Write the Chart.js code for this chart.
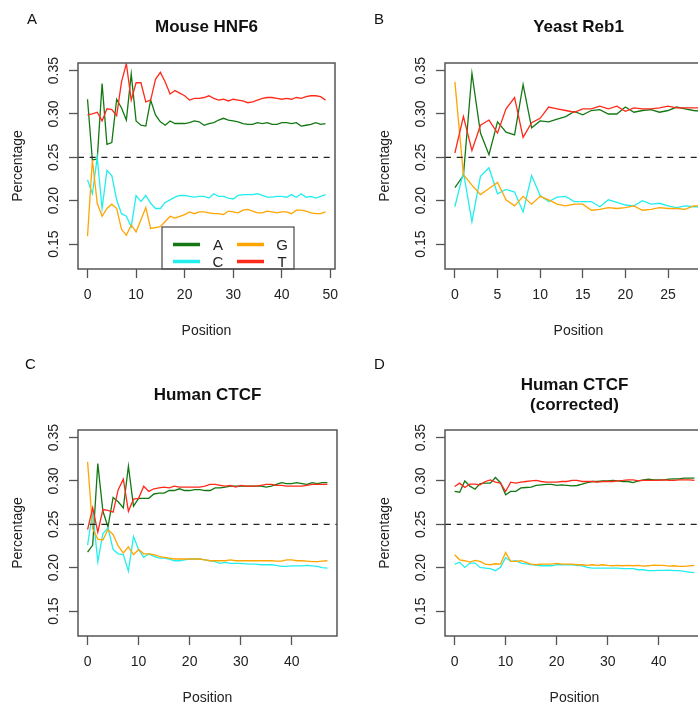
<!DOCTYPE html>
<html>
<head>
<meta charset="utf-8">
<script src="https://cdn.jsdelivr.net/npm/chart.js@4/dist/chart.umd.min.js"></script>
<style>
  html, body { margin: 0; padding: 0; background: #fff; overflow: hidden; }
  #page { position: relative; width: 698px; height: 711px; overflow: hidden; }
  #page canvas { position: absolute; }
  .tag { position: absolute; font: 15px "Liberation Sans", sans-serif; line-height: 1; color: #111; }
</style>
</head>
<body>
<div id="page">
  <canvas id="chartA" width="349" height="350" style="left:0;top:0"></canvas>
  <canvas id="chartB" width="400" height="350" style="left:349px;top:0"></canvas>
  <canvas id="chartC" width="349" height="361" style="left:0;top:350px"></canvas>
  <canvas id="chartD" width="400" height="361" style="left:349px;top:350px"></canvas>
  <div class="tag" style="left:27px;top:11px">A</div>
  <div class="tag" style="left:374px;top:11px">B</div>
  <div class="tag" style="left:25px;top:356px">C</div>
  <div class="tag" style="left:374px;top:356px">D</div>
</div>
<script>
// nucleotide frequency per position, one array per base
const hnf6A = [0.317, 0.247, 0.248, 0.335, 0.265, 0.267, 0.317, 0.307, 0.293, 0.346,
  0.292, 0.287, 0.286, 0.316, 0.299, 0.291, 0.287, 0.292, 0.289, 0.289,
  0.289, 0.290, 0.292, 0.291, 0.287, 0.289, 0.290, 0.293, 0.295, 0.293,
  0.292, 0.291, 0.289, 0.288, 0.288, 0.290, 0.289, 0.290, 0.288, 0.288,
  0.290, 0.290, 0.289, 0.290, 0.286, 0.287, 0.288, 0.290, 0.288, 0.289];
const hnf6C = [0.224, 0.208, 0.250, 0.191, 0.235, 0.229, 0.201, 0.185, 0.182, 0.170,
  0.206, 0.199, 0.206, 0.197, 0.191, 0.191, 0.198, 0.201, 0.204, 0.206,
  0.206, 0.205, 0.204, 0.205, 0.205, 0.203, 0.208, 0.205, 0.205, 0.203,
  0.202, 0.206, 0.207, 0.207, 0.207, 0.208, 0.206, 0.204, 0.204, 0.205,
  0.205, 0.204, 0.207, 0.204, 0.208, 0.204, 0.205, 0.203, 0.205, 0.207];
const hnf6G = [0.159, 0.247, 0.197, 0.182, 0.191, 0.196, 0.191, 0.167, 0.160, 0.172,
  0.164, 0.178, 0.192, 0.168, 0.169, 0.170, 0.176, 0.182, 0.180, 0.182,
  0.184, 0.187, 0.185, 0.187, 0.187, 0.186, 0.185, 0.185, 0.184, 0.188,
  0.187, 0.186, 0.189, 0.190, 0.188, 0.186, 0.186, 0.188, 0.187, 0.186,
  0.187, 0.187, 0.185, 0.189, 0.189, 0.188, 0.186, 0.185, 0.185, 0.187];
const hnf6T = [0.299, 0.300, 0.302, 0.292, 0.306, 0.305, 0.298, 0.337, 0.358, 0.316,
  0.336, 0.336, 0.314, 0.316, 0.340, 0.348, 0.337, 0.323, 0.327, 0.324,
  0.321, 0.316, 0.318, 0.318, 0.319, 0.321, 0.318, 0.316, 0.317, 0.315,
  0.317, 0.316, 0.315, 0.313, 0.314, 0.316, 0.318, 0.319, 0.319, 0.318,
  0.317, 0.318, 0.317, 0.319, 0.318, 0.320, 0.321, 0.321, 0.320, 0.316];

const reb1A = [0.215, 0.229, 0.347, 0.278, 0.253, 0.291, 0.279, 0.276, 0.334, 0.284,
  0.292, 0.291, 0.294, 0.297, 0.303, 0.299, 0.304, 0.305, 0.300, 0.300,
  0.308, 0.302, 0.304, 0.305, 0.302, 0.304, 0.308, 0.306, 0.304, 0.303];
const reb1C = [0.193, 0.233, 0.176, 0.228, 0.238, 0.208, 0.213, 0.210, 0.187, 0.229,
  0.206, 0.199, 0.204, 0.205, 0.199, 0.199, 0.199, 0.193, 0.201, 0.198,
  0.195, 0.194, 0.200, 0.196, 0.197, 0.194, 0.192, 0.194, 0.193, 0.193];
const reb1G = [0.337, 0.230, 0.218, 0.207, 0.214, 0.221, 0.201, 0.194, 0.205, 0.196,
  0.205, 0.201, 0.196, 0.194, 0.196, 0.196, 0.189, 0.190, 0.192, 0.191,
  0.192, 0.194, 0.189, 0.190, 0.192, 0.191, 0.191, 0.190, 0.194, 0.194];
const reb1T = [0.255, 0.297, 0.258, 0.287, 0.293, 0.278, 0.306, 0.319, 0.273, 0.290,
  0.295, 0.308, 0.306, 0.304, 0.302, 0.306, 0.306, 0.309, 0.306, 0.309,
  0.303, 0.307, 0.306, 0.306, 0.307, 0.309, 0.307, 0.307, 0.307, 0.307];

const ctcfA = [0.218, 0.226, 0.320, 0.265, 0.247, 0.281, 0.276, 0.269, 0.317, 0.271,
  0.280, 0.280, 0.280, 0.285, 0.286, 0.286, 0.289, 0.289, 0.291, 0.289,
  0.289, 0.290, 0.290, 0.289, 0.289, 0.292, 0.292, 0.293, 0.294, 0.294,
  0.294, 0.294, 0.294, 0.294, 0.294, 0.293, 0.294, 0.296, 0.298, 0.297,
  0.297, 0.298, 0.297, 0.296, 0.298, 0.297, 0.298, 0.298];
const ctcfC = [0.226, 0.265, 0.207, 0.239, 0.246, 0.221, 0.216, 0.215, 0.196, 0.236,
  0.221, 0.212, 0.216, 0.213, 0.211, 0.211, 0.210, 0.208, 0.208, 0.209,
  0.210, 0.210, 0.210, 0.209, 0.208, 0.207, 0.205, 0.206, 0.205, 0.205,
  0.205, 0.2045, 0.204, 0.204, 0.2034, 0.2034, 0.2034, 0.2026, 0.2015, 0.2015,
  0.202, 0.202, 0.202, 0.2026, 0.202, 0.2015, 0.200, 0.1995];
const ctcfG = [0.322, 0.245, 0.233, 0.232, 0.244, 0.238, 0.225, 0.217, 0.224, 0.215,
  0.221, 0.216, 0.216, 0.215, 0.213, 0.212, 0.211, 0.210, 0.210, 0.210,
  0.210, 0.210, 0.210, 0.209, 0.208, 0.208, 0.208, 0.208, 0.209, 0.208,
  0.208, 0.208, 0.208, 0.208, 0.208, 0.208, 0.208, 0.2075, 0.2075, 0.209,
  0.209, 0.208, 0.208, 0.2075, 0.207, 0.207, 0.2075, 0.208];
const ctcfT = [0.244, 0.269, 0.241, 0.267, 0.266, 0.264, 0.290, 0.302, 0.265, 0.279,
  0.280, 0.294, 0.288, 0.291, 0.292, 0.293, 0.292, 0.294, 0.293, 0.293,
  0.293, 0.293, 0.293, 0.294, 0.296, 0.296, 0.295, 0.294, 0.295, 0.293,
  0.295, 0.294, 0.294, 0.294, 0.295, 0.296, 0.296, 0.295, 0.295, 0.294,
  0.294, 0.294, 0.294, 0.295, 0.296, 0.296, 0.296, 0.296];

const corrA = [0.288, 0.287, 0.300, 0.294, 0.2905, 0.297, 0.2975, 0.2975, 0.304, 0.298,
  0.284, 0.288, 0.288, 0.292, 0.2925, 0.293, 0.295, 0.2955, 0.296, 0.296,
  0.295, 0.2955, 0.295, 0.2944, 0.2948, 0.2963, 0.2982, 0.2994, 0.2994, 0.3002,
  0.3002, 0.3006, 0.3002, 0.2994, 0.2994, 0.2982, 0.3002, 0.3013, 0.3021, 0.3013,
  0.3013, 0.3013, 0.3021, 0.3025, 0.3025, 0.3032, 0.3032, 0.3032];
const corrC = [0.2041, 0.2061, 0.2003, 0.2053, 0.2053, 0.2003, 0.1995, 0.1988, 0.1965, 0.2003,
  0.2118, 0.2072, 0.208, 0.2053, 0.2045, 0.2034, 0.2026, 0.2022, 0.2022, 0.2022,
  0.2034, 0.2034, 0.2034, 0.2034, 0.2026, 0.2022, 0.2003, 0.1995, 0.1995, 0.1995,
  0.1995, 0.1995, 0.1995, 0.1988, 0.1988, 0.1988, 0.1976, 0.1976, 0.1965, 0.1965,
  0.1969, 0.1969, 0.1972, 0.1965, 0.1965, 0.1957, 0.1949, 0.1942];
const corrG = [0.2149, 0.2091, 0.208, 0.2064, 0.2084, 0.2072, 0.2041, 0.2034, 0.2045, 0.2041,
  0.2176, 0.2072, 0.2072, 0.208, 0.2061, 0.2041, 0.2034, 0.2041, 0.2041, 0.2041,
  0.2049, 0.2041, 0.2041, 0.2041, 0.2034, 0.2034, 0.2026, 0.2034, 0.2026, 0.2034,
  0.2026, 0.2022, 0.2026, 0.2022, 0.2026, 0.2022, 0.2026, 0.2018, 0.2022, 0.203,
  0.2026, 0.2026, 0.2018, 0.2022, 0.2015, 0.2015, 0.2022, 0.2026];
const corrT = [0.2936, 0.2975, 0.2925, 0.2963, 0.2963, 0.2955, 0.2994, 0.3013, 0.2986, 0.2975,
  0.2879, 0.2986, 0.2975, 0.2986, 0.2994, 0.3002, 0.3006, 0.2994, 0.2986, 0.2986,
  0.2986, 0.2994, 0.2994, 0.3006, 0.3006, 0.2994, 0.2994, 0.2994, 0.2986, 0.2994,
  0.2994, 0.2994, 0.3002, 0.3006, 0.3013, 0.3013, 0.3002, 0.3006, 0.3006, 0.3006,
  0.3006, 0.3013, 0.3006, 0.3006, 0.3013, 0.3013, 0.3013, 0.3006];

const bases = ["A", "C", "G", "T"];
const baseColors = ["#137813", "#22eeee", "#ffa500", "#ff2a1a"];
const yTicks = [0.15, 0.20, 0.25, 0.30, 0.35];
const yTickLabels = ["0.15", "0.20", "0.25", "0.30", "0.35"];
const xTicksHnf6 = [0, 10, 20, 30, 40, 50];
const xTicksReb1 = [0, 5, 10, 15, 20, 25, 30];
const xTicksCtcf = [0, 10, 20, 30, 40];
const background = 0.25;

const FONT = '"Liberation Sans", Arial, sans-serif';

// frame, dashed background level, rotated y labels, titles and legend
const panelDecor = {
    id: "panelDecor",
    afterDatasetsDraw(chart, args, o) {
        const { ctx, chartArea: a, scales: { y } } = chart;
        ctx.save();

        const yb = y.getPixelForValue(background);
        ctx.strokeStyle = "#222";
        ctx.lineWidth = 1.2;
        ctx.setLineDash([6, 5.7]);
        ctx.beginPath();
        ctx.moveTo(a.left, yb);
        ctx.lineTo(a.right, yb);
        ctx.stroke();
        ctx.setLineDash([]);

        if (o.legend) {
            const L = o.legend;
            ctx.fillStyle = "#fff";
            ctx.fillRect(L.left, L.top, L.right - L.left, a.bottom - L.top);
            ctx.strokeStyle = "#222";
            ctx.lineWidth = 1;
            ctx.strokeRect(L.left, L.top, L.right - L.left, a.bottom - L.top);
            ctx.font = "15px " + FONT;
            ctx.textAlign = "center";
            ctx.textBaseline = "middle";
            chart.data.datasets.forEach((ds, k) => {
                const col = Math.floor(k / 2), row = k % 2;
                const x0 = L.left + 11 + col * 64;
                const yy = L.top + 17.5 + row * 17;
                ctx.strokeStyle = ds.borderColor;
                ctx.lineWidth = 3.5;
                ctx.beginPath();
                ctx.moveTo(x0, yy);
                ctx.lineTo(x0 + 27, yy);
                ctx.stroke();
                ctx.fillStyle = "#222";
                ctx.fillText(ds.label, x0 + 45, yy + 1);
            });
        }

        ctx.strokeStyle = "#555";
        ctx.lineWidth = 1.5;
        ctx.strokeRect(a.left, a.top, a.right - a.left, a.bottom - a.top);

        ctx.fillStyle = "#222";
        ctx.textAlign = "center";
        ctx.textBaseline = "middle";
        ctx.font = "14px " + FONT;
        yTicks.forEach((v, i) => {
            ctx.save();
            ctx.translate(a.left - 24, y.getPixelForValue(v));
            ctx.rotate(-Math.PI / 2);
            ctx.fillText(yTickLabels[i], 0, 0);
            ctx.restore();
        });

        const cx = (a.left + a.right) / 2;
        ctx.font = "14px " + FONT;
        ctx.fillText("Position", cx, a.bottom + 62);
        ctx.save();
        ctx.translate(a.left - 60, (a.top + a.bottom) / 2);
        ctx.rotate(-Math.PI / 2);
        ctx.fillText("Percentage", 0, 0);
        ctx.restore();

        ctx.fillStyle = "#111";
        ctx.font = "bold 17px " + FONT;
        o.title.forEach((line, i) => ctx.fillText(line, cx, o.titleY + i * 20));
        ctx.restore();
    }
};

function drawPanel(id, series, p) {
    new Chart(document.getElementById(id), {
        type: "line",
        data: {
            datasets: series.map((vals, k) => ({
                label: bases[k],
                data: vals.map((v, i) => ({ x: i, y: v })),
                borderColor: baseColors[k],
                borderWidth: 1.3,
                pointRadius: 0,
                tension: 0,
                order: 3 - k
            }))
        },
        options: {
            responsive: false,
            animation: false,
            layout: { padding: { top: p.top, right: p.right, left: 0, bottom: 0 } },
            plugins: {
                legend: { display: false },
                tooltip: { enabled: false },
                panelDecor: { title: p.title, titleY: p.titleY, legend: p.legend }
            },
            scales: {
                x: {
                    type: "linear",
                    min: -0.04 * (series[0].length - 1),
                    max: 1.04 * (series[0].length - 1),
                    afterBuildTicks: s => { s.ticks = p.xTicks.map(v => ({ value: v })); },
                    afterFit: s => { s.height = p.bottom; },
                    border: { display: false },
                    grid: { drawOnChartArea: false, tickLength: 9, tickColor: "#555", tickWidth: 1.3 },
                    ticks: {
                        autoSkip: false, maxRotation: 0, padding: 9,
                        color: "#222", font: { family: FONT, size: 14 },
                        callback: v => String(v)
                    }
                },
                y: {
                    min: 0.1212,
                    max: 0.3588,
                    afterBuildTicks: s => { s.ticks = yTicks.map(v => ({ value: v })); },
                    afterFit: s => { s.width = p.left; },
                    border: { display: false },
                    grid: { drawOnChartArea: false, tickLength: 9, tickColor: "#555", tickWidth: 1.3 },
                    ticks: { display: false }
                }
            }
        },
        plugins: [panelDecor]
    });
}

drawPanel("chartA", [hnf6A, hnf6C, hnf6G, hnf6T], {
    left: 78, top: 63, right: 14, bottom: 81,
    xTicks: xTicksHnf6, title: ["Mouse HNF6"], titleY: 27,
    legend: { left: 162, top: 227, right: 294 }
});
drawPanel("chartB", [reb1A, reb1C, reb1G, reb1T], {
    left: 96, top: 63, right: 37, bottom: 81,
    xTicks: xTicksReb1, title: ["Yeast Reb1"], titleY: 27
});
drawPanel("chartC", [ctcfA, ctcfC, ctcfG, ctcfT], {
    left: 78, top: 80, right: 12, bottom: 75,
    xTicks: xTicksCtcf, title: ["Human CTCF"], titleY: 45
});
drawPanel("chartD", [corrA, corrC, corrG, corrT], {
    left: 96, top: 80, right: 45, bottom: 75,
    xTicks: xTicksCtcf, title: ["Human CTCF", "(corrected)"], titleY: 35
});
</script>
</body>
</html>
